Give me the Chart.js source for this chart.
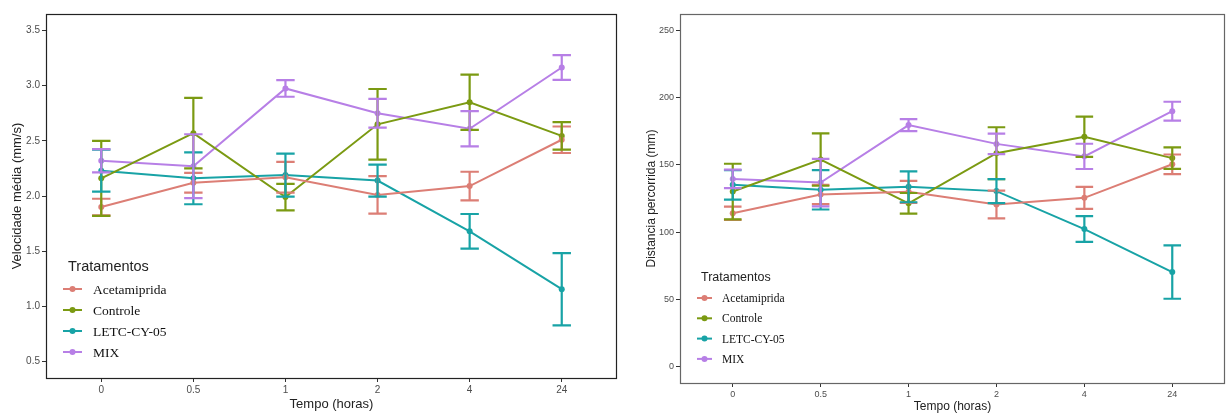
<!DOCTYPE html>
<html>
<head>
<meta charset="utf-8">
<script src="https://cdn.jsdelivr.net/npm/chart.js@4/dist/chart.umd.min.js"></script>
<style>
  html, body { margin: 0; padding: 0; background: #fff; }
  #wrap { position: relative; width: 1228px; height: 415px; overflow: hidden; }
  canvas { position: absolute; top: 0; }
</style>
</head>
<body>
<div id="wrap">
  <canvas id="c1" width="620" height="415" style="left:0px"></canvas>
  <canvas id="c2" width="608" height="415" style="left:620px"></canvas>
</div>
<script>
// ---- data ----
const times = ['0', '0.5', '1', '2', '4', '24'];
const seriesNames = ['Acetamiprida', 'Controle', 'LETC-CY-05', 'MIX'];

const velAcet    = [1.90, 2.12, 2.17, 2.01, 2.09, 2.51];
const velAcetErr = [0.075, 0.09, 0.14, 0.17, 0.13, 0.12];
const velCont    = [2.16, 2.57, 1.99, 2.65, 2.85, 2.545];
const velContErr = [0.34, 0.32, 0.12, 0.32, 0.25, 0.125];
const velLetc    = [2.23, 2.16, 2.19, 2.14, 1.68, 1.155];
const velLetcErr = [0.19, 0.235, 0.195, 0.145, 0.157, 0.327];
const velMix     = [2.32, 2.27, 2.975, 2.75, 2.61, 3.165];
const velMixErr  = [0.105, 0.29, 0.075, 0.13, 0.16, 0.113];
const velTicks   = [0.5, 1.0, 1.5, 2.0, 2.5, 3.0, 3.5];

const distAcet    = [114, 128, 130, 120.5, 125.5, 150.5];
const distAcetErr = [4.9, 7.2, 8.2, 10.3, 8.2, 7.3];
const distCont    = [130.2, 154, 121.4, 158.8, 171, 155.1];
const distContErr = [20.7, 19.5, 7.7, 19.3, 15, 8];
const distLetc    = [135.2, 131.5, 133.7, 130.5, 102.2, 70.2];
const distLetcErr = [11, 14.7, 11.5, 9, 9.6, 19.9];
const distMix     = [139.6, 136.9, 179.7, 165.7, 156.4, 190.1];
const distMixErr  = [6.9, 17.7, 4.5, 7.6, 9.4, 7];
const distTicks   = [0, 50, 100, 150, 200, 250];

// ---- styles ----
const colors = ['#DC7E75', '#7B9A12', '#18A3A6', '#B77FE6'];
const SANS = "Arial, 'Liberation Sans', sans-serif";
const SERIF = "'Times New Roman', 'Liberation Serif', serif";

function makeDatasets(vals, errs) {
  return vals.map((v, k) => ({
    label: seriesNames[k],
    data: v.map((y, i) => ({ x: i, y: y })),
    errors: errs[k],
    borderColor: colors[k],
    backgroundColor: colors[k],
    borderWidth: 2,
    pointRadius: 3,
    pointHoverRadius: 3,
    pointBorderWidth: 0,
    tension: 0
  }));
}

const errorBarPlugin = {
  id: 'errorBars',
  afterDatasetsDraw(chart) {
    const ctx = chart.ctx;
    const xs = chart.scales.x, ys = chart.scales.y;
    ctx.save();
    chart.data.datasets.forEach((ds) => {
      ctx.strokeStyle = ds.borderColor;
      ctx.lineWidth = 2.2;
      ds.data.forEach((p, i) => {
        const e = ds.errors[i];
        const x = xs.getPixelForValue(p.x);
        const xl = xs.getPixelForValue(p.x - 0.1);
        const xr = xs.getPixelForValue(p.x + 0.1);
        const yt = ys.getPixelForValue(p.y + e);
        const yb = ys.getPixelForValue(p.y - e);
        ctx.beginPath();
        ctx.moveTo(x, yt); ctx.lineTo(x, yb);
        ctx.moveTo(xl, yt); ctx.lineTo(xr, yt);
        ctx.moveTo(xl, yb); ctx.lineTo(xr, yb);
        ctx.stroke();
      });
    });
    ctx.restore();
  }
};

const frameLegendPlugin = {
  id: 'frameLegend',
  afterDraw(chart, args, opts) {
    const ctx = chart.ctx;
    const a = chart.chartArea;
    ctx.save();
    ctx.strokeStyle = opts.frameColor;
    ctx.lineWidth = 1.2;
    ctx.strokeRect(Math.round(a.left) + 0.5, Math.round(a.top) + 0.5,
                   Math.round(a.right - a.left) - 1, Math.round(a.bottom - a.top));
    // legend
    const L = opts.legend;
    ctx.fillStyle = '#222';
    ctx.textBaseline = 'middle';
    ctx.textAlign = 'left';
    ctx.font = L.titleSize + 'px ' + SANS;
    ctx.fillText('Tratamentos', L.titleX, L.titleY);
    chart.data.datasets.forEach((ds, k) => {
      const y = L.y0 + k * L.dy;
      ctx.strokeStyle = ds.borderColor;
      ctx.lineWidth = 2;
      ctx.beginPath();
      ctx.moveTo(L.keyX0, y); ctx.lineTo(L.keyX1, y);
      ctx.stroke();
      ctx.fillStyle = ds.borderColor;
      ctx.beginPath();
      ctx.arc((L.keyX0 + L.keyX1) / 2, y, 3, 0, Math.PI * 2);
      ctx.fill();
      ctx.fillStyle = '#111';
      ctx.font = L.textSize + 'px ' + SERIF;
      ctx.fillText(ds.label, L.textX, y + 1);
    });
    ctx.restore();
  }
};

function makeChart(id, cfg) {
  return new Chart(document.getElementById(id), {
    type: 'line',
    data: { datasets: makeDatasets(cfg.vals, cfg.errs) },
    options: {
      responsive: false,
      animation: false,
      events: [],
      layout: { padding: cfg.padding },
      plugins: {
        legend: { display: false },
        tooltip: { enabled: false },
        frameLegend: { frameColor: cfg.frameColor, legend: cfg.legend }
      },
      scales: {
        x: {
          type: 'linear',
          min: -0.6, max: 5.6,
          afterBuildTicks: (s) => { s.ticks = times.map((t, i) => ({ value: i })); },
          afterFit: (s) => { s.height = cfg.xHeight; },
          ticks: {
            callback: (v) => times[v],
            color: '#4d4d4d',
            font: { family: SANS, size: cfg.tickSize },
            padding: 2,
            maxRotation: 0, autoSkip: false
          },
          grid: { display: true, drawOnChartArea: false, drawTicks: true, tickLength: 4, color: '#333', tickColor: '#333' },
          border: { display: false },
          title: {
            display: true, text: 'Tempo (horas)', color: '#222',
            font: { family: SANS, size: cfg.titleSize },
            padding: { top: 0, bottom: cfg.xTitlePad }
          }
        },
        y: {
          type: 'linear',
          min: cfg.yMin, max: cfg.yMax,
          afterBuildTicks: (s) => { s.ticks = cfg.yTicks.map(v => ({ value: v })); },
          afterFit: (s) => { s.width = cfg.yWidth; },
          ticks: {
            callback: cfg.yFmt,
            color: '#4d4d4d',
            font: { family: SANS, size: cfg.tickSize },
            padding: 2
          },
          grid: { display: true, drawOnChartArea: false, drawTicks: true, tickLength: 4, color: '#333', tickColor: '#333' },
          border: { display: false },
          title: {
            display: true, text: cfg.yTitle, color: '#222',
            font: { family: SANS, size: cfg.titleSize },
            padding: { top: cfg.yTitlePad, bottom: 0 }
          }
        }
      }
    },
    plugins: [errorBarPlugin, frameLegendPlugin]
  });
}

makeChart('c1', {
  vals: [velAcet, velCont, velLetc, velMix],
  errs: [velAcetErr, velContErr, velLetcErr, velMixErr],
  yMin: 0.35, yMax: 3.65, yTicks: velTicks,
  yFmt: (v) => v.toFixed(1),
  yTitle: 'Velocidade média (mm/s)',
  padding: { top: 14, right: 2, left: 0, bottom: 0 },
  xHeight: 37, yWidth: 46,
  tickSize: 10, titleSize: 13, xTitlePad: 3, yTitlePad: 10,
  frameColor: '#222',
  legend: { titleX: 68, titleY: 267, titleSize: 14.5, y0: 289, dy: 21, keyX0: 63, keyX1: 82, textX: 93, textSize: 13.5 }
});

makeChart('c2', {
  vals: [distAcet, distCont, distLetc, distMix],
  errs: [distAcetErr, distContErr, distLetcErr, distMixErr],
  yMin: -12.5, yMax: 262.5, yTicks: distTicks,
  yFmt: (v) => String(v),
  yTitle: 'Distancia percorrida (mm)',
  padding: { top: 14, right: 0, left: 0, bottom: 0 },
  xHeight: 32, yWidth: 60,
  tickSize: 9, titleSize: 12, xTitlePad: 1, yTitlePad: 24,
  frameColor: '#666',
  legend: { titleX: 81, titleY: 278, titleSize: 12.5, y0: 298, dy: 20.3, keyX0: 77, keyX1: 92, textX: 102, textSize: 11.5 }
});
</script>
</body>
</html>
